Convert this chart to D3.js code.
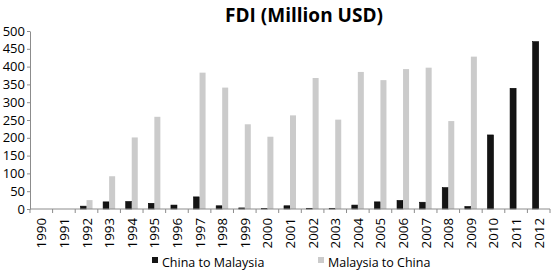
<!DOCTYPE html>
<html>
<head>
<meta charset="utf-8">
<script src="https://cdn.jsdelivr.net/npm/d3@7"></script>
<style>
  body { margin: 0; background: #fff; }
  text { font-family: "Open Sans", "DejaVu Sans", sans-serif; fill: #000; }
</style>
</head>
<body>
<div class="canvas"></div>
<script>
const years = ["1990", "1991", "1992", "1993", "1994", "1995", "1996", "1997", "1998", "1999",
  "2000", "2001", "2002", "2003", "2004", "2005", "2006", "2007", "2008", "2009", "2010", "2011", "2012"];
const chinaToMalaysia = [0, 0, 8, 20, 21, 16, 11, 34, 9, 3, 1, 9, 2, 2, 11, 20, 24, 19, 60, 7, 208, 339, 470];
const malaysiaToChina = [0, 0, 25, 92, 201, 259, 0, 383, 341, 238, 203, 263, 368, 251, 385, 362, 393, 397, 247, 428, 0, 0, 0];
const seriesNames = ["China to Malaysia", "Malaysia to China"];
const yTicks = [0, 50, 100, 150, 200, 250, 300, 350, 400, 450, 500];

const colour = d3.scaleOrdinal().domain(seriesNames).range(["#141414", "#cbcbcb"]);

const margin = {top: 31, right: 2, bottom: 63, left: 30};
const width = 552, height = 272;
const graphWidth = width - margin.left - margin.right;
const graphHeight = height - margin.top - margin.bottom;

const svg = d3.select('.canvas')
  .append('svg')
  .attr('width', width)
  .attr('height', height);

svg.append('text')
  .attr('x', 304)
  .attr('y', 22)
  .attr('text-anchor', 'middle')
  .style('font-size', '19px')
  .style('font-weight', 'bold')
  .text('FDI (Million USD)');

const graph = svg.append('g')
  .attr('transform', `translate(${margin.left}, ${margin.top})`);

const x0 = d3.scaleBand().domain(years).range([0, graphWidth]);
const x1 = d3.scaleBand().domain(seriesNames).range([0, x0.bandwidth()]).paddingOuter(0.88);
const y = d3.scaleLinear().domain([0, 500]).range([graphHeight, 0]);

const rows = years.map((yr, i) => ({
  year: yr,
  values: [
    {name: seriesNames[0], value: chinaToMalaysia[i]},
    {name: seriesNames[1], value: malaysiaToChina[i]}
  ]
}));

graph.selectAll('g.grp')
  .data(rows)
  .enter().append('g')
  .attr('class', 'grp')
  .attr('transform', d => `translate(${x0(d.year)}, 0)`)
  .selectAll('rect')
  .data(d => d.values)
  .enter().append('rect')
  .attr('x', d => x1(d.name))
  .attr('width', x1.bandwidth())
  .attr('y', d => y(d.value))
  .attr('height', d => graphHeight - y(d.value))
  .attr('fill', d => colour(d.name))
  .attr('stroke', d => d.name === seriesNames[0] ? '#000' : 'none')
  .attr('stroke-width', 0.6);

// y axis
const yAxisGroup = graph.append('g').call(
  d3.axisLeft(y).tickValues(yTicks).tickSize(3).tickPadding(2).tickSizeOuter(0)
);
yAxisGroup.selectAll('text').style('font-size', '13px');
yAxisGroup.selectAll('line, path').attr('stroke', '#8c8c8c');

// x axis: ticks between categories
const xAxisGroup = graph.append('g')
  .attr('transform', `translate(0, ${graphHeight})`);
xAxisGroup.append('line')
  .attr('x1', 0).attr('x2', graphWidth)
  .attr('stroke', '#8c8c8c');
xAxisGroup.selectAll('line.tick')
  .data(years.concat(['end']))
  .enter().append('line')
  .attr('class', 'tick')
  .attr('x1', (d, i) => i < years.length ? x0(d) : graphWidth)
  .attr('x2', (d, i) => i < years.length ? x0(d) : graphWidth)
  .attr('y1', 0).attr('y2', 4)
  .attr('stroke', '#8c8c8c');
xAxisGroup.selectAll('text')
  .data(years)
  .enter().append('text')
  .attr('transform', d => `translate(${x0(d) + x0.bandwidth() / 2 + 5}, 9) rotate(-90)`)
  .attr('text-anchor', 'end')
  .style('font-size', '13.3px')
  .text(d => d);

// legend
const legend = svg.append('g');
const legendX = [152, 318];
seriesNames.forEach((name, i) => {
  legend.append('rect')
    .attr('x', legendX[i]).attr('y', 257)
    .attr('width', 6).attr('height', 6)
    .attr('fill', colour(name));
  legend.append('text')
    .attr('x', legendX[i] + 10).attr('y', 267)
    .style('font-size', '12.5px')
    .text(name);
});
</script>
</body>
</html>
